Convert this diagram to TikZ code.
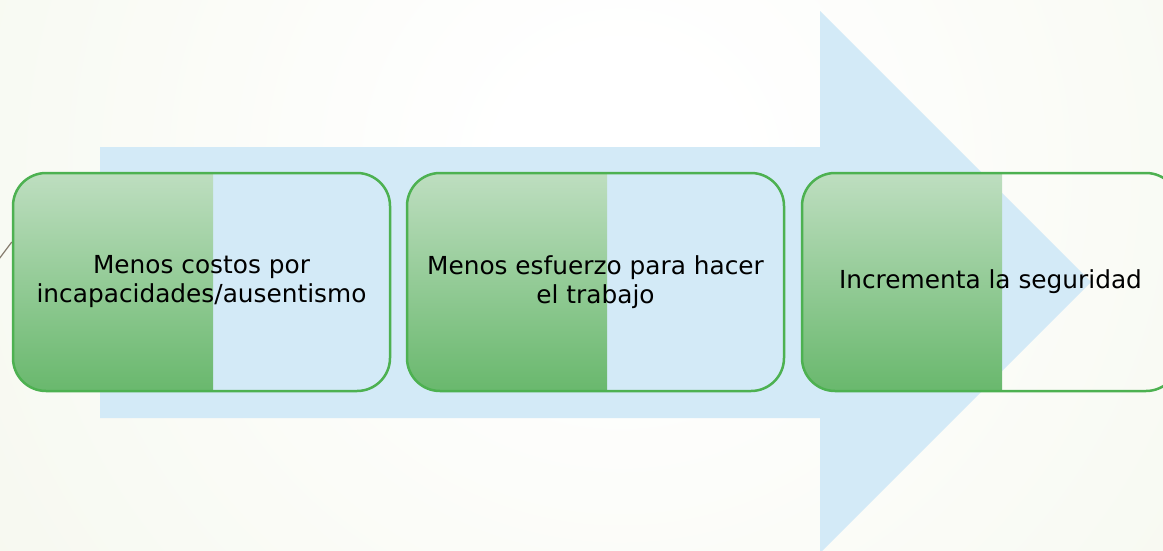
\documentclass[tikz,border=0pt]{standalone}
\usepackage{fontspec}
\setmainfont{DejaVu Sans}
\definecolor{bgcol}{HTML}{EEF2E1}
\definecolor{arrowblue}{HTML}{D3EAF7}
\definecolor{boxgreen}{HTML}{4DB151}
\definecolor{gtop}{HTML}{BEDEC0}
\definecolor{gbot}{HTML}{69B86D}
\definecolor{linecol}{HTML}{857A6C}
\pgfdeclareradialshading{bgshade}{\pgfpoint{0bp}{0bp}}{color(0bp)=(white); color(3bp)=(white); color(36bp)=(bgcol); color(50bp)=(bgcol)}
\tikzset{
  benefit/.style={draw=boxgreen, line width=2.5pt, rounded corners=33pt,
    minimum width=377pt, minimum height=218pt, inner sep=0pt,
    align=center, font=\fontsize{24.8}{29}\selectfont,
    path picture={\shade[sharp corners, top color=gtop, bottom color=gbot]
      (path picture bounding box.north west) rectangle
      ([xshift=200pt]path picture bounding box.south west);}},
  bigarrow/.style={fill=arrowblue, draw=none},
  link/.style={draw=linecol, line width=1.2pt}
}
\begin{document}
\begin{tikzpicture}[x=1pt,y=-1pt]
\useasboundingbox (0,0) rectangle (1163,550);
\clip (0,0) rectangle (1163,550);
\fill[bgcol] (0,0) rectangle (1163,550);
\shade[shading=bgshade] (620,170) circle (950);
\fill[bigarrow] (100,147) -- (820,147) -- (820,11) -- (1091,282) -- (820,553) -- (820,418) -- (100,418) -- cycle;
\node[benefit] (b1) at (201.5,282) {Menos costos por\\incapacidades/ausentismo};
\node[benefit] (b2) at (595.5,282) {Menos esfuerzo para hacer\\el trabajo};
\node[benefit] (b3) at (990.5,282) {Incrementa la seguridad};
\coordinate (c0) at (-1,259);
\draw[link] (c0) -- ([yshift=40pt]b1.west);
\end{tikzpicture}
\end{document}
